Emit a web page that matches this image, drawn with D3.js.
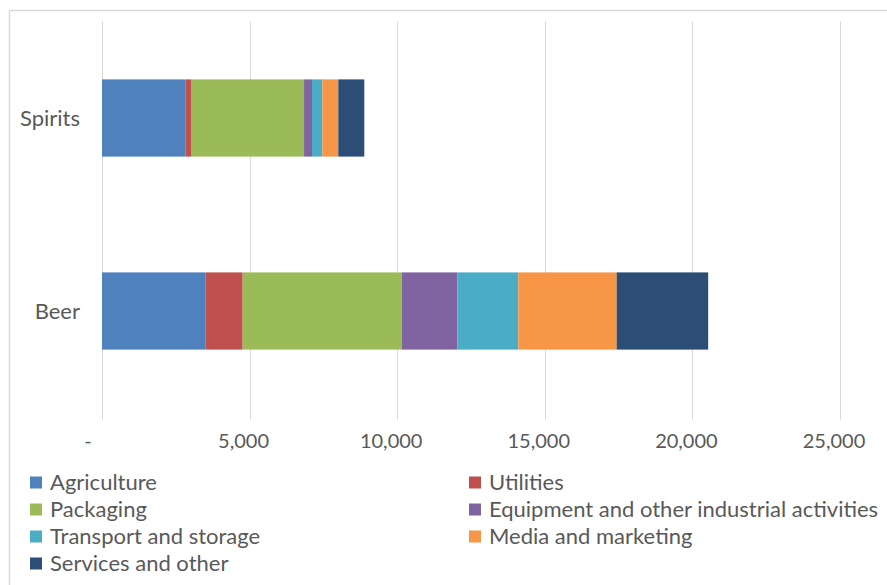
<!DOCTYPE html>
<html>
<head>
<meta charset="utf-8">
<script src="https://cdn.jsdelivr.net/npm/d3@7"></script>
<style>
  html, body { margin: 0; padding: 0; background: #fff; }
  svg { display: block; font-family: Lato, "Open Sans", sans-serif; }
</style>
</head>
<body>
<svg id="chart" width="887" height="585"></svg>
<script>
// Drink categories (top to bottom) and cost components
const categories = ["Spirits", "Beer"];
const seriesNames = [
  "Agriculture", "Utilities", "Packaging", "Equipment and other industrial activities",
  "Transport and storage", "Media and marketing", "Services and other"
];
const seriesColors = ["#4f81bd", "#c0504d", "#9bbb59", "#8064a2", "#4bacc6", "#f79646", "#2c4d75"];

// Values per component, in category order [Spirits, Beer]
const agriculture = [2835, 3500];
const utilities   = [180, 1265];
const packaging   = [3830, 5385];
const equipment   = [270, 1885];
const transport   = [350, 2065];
const media       = [540, 3335];
const services    = [880, 3100];

const xTicks = [0, 5000, 10000, 15000, 20000, 25000];

const seriesValues = [agriculture, utilities, packaging, equipment, transport, media, services];

const svg = d3.select("#chart");
const W = 887, H = 585;
const plot = { left: 102, right: 840, top: 21.5, bottom: 407.5 };
const textColor = "#595959";
const gridColor = "#d9d9d9";

// Outer chart frame
svg.append("rect")
  .attr("x", 9.5).attr("y", 10.5)
  .attr("width", W).attr("height", H)
  .attr("fill", "#fff")
  .attr("stroke", "#d9d9d9").attr("stroke-width", 1.5);

const x = d3.scaleLinear().domain([0, 25000]).range([plot.left, plot.right]);
const y = d3.scaleBand().domain(categories).range([plot.top, plot.bottom]).padding(0);
const barH = y.bandwidth() * 0.4;

// Vertical gridlines
svg.append("g")
  .selectAll("line")
  .data(xTicks)
  .join("line")
  .attr("x1", d => Math.round(x(d)) + 0.5)
  .attr("x2", d => Math.round(x(d)) + 0.5)
  .attr("y1", plot.top)
  .attr("y2", plot.bottom + 12)
  .attr("stroke", gridColor)
  .attr("stroke-width", 1);

// Stack the components per category
const rows = categories.map((c, i) => {
  const r = { category: c };
  seriesNames.forEach((s, j) => { r[s] = seriesValues[j][i]; });
  return r;
});
const stacked = d3.stack().keys(seriesNames)(rows);

svg.append("g")
  .selectAll("g")
  .data(stacked)
  .join("g")
  .attr("fill", (d, i) => seriesColors[i])
  .selectAll("rect")
  .data(d => d)
  .join("rect")
  .attr("x", d => x(d[0]))
  .attr("width", d => x(d[1]) - x(d[0]))
  .attr("y", d => y(d.data.category) + (y.bandwidth() - barH) / 2)
  .attr("height", barH);

// Category labels
svg.append("g")
  .selectAll("text")
  .data(categories)
  .join("text")
  .attr("x", 80)
  .attr("y", d => y(d) + y.bandwidth() / 2)
  .attr("dy", "0.35em")
  .attr("text-anchor", "end")
  .attr("font-size", 22)
  .attr("fill", textColor)
  .text(d => d);

// Value axis labels
const fmt = d3.format(",");
svg.append("g")
  .selectAll("text")
  .data(xTicks)
  .join("text")
  .attr("x", d => x(d) - (d === 0 ? 14 : 6))
  .attr("y", 441)
  .attr("dy", "0.35em")
  .attr("text-anchor", "middle")
  .attr("font-size", 20)
  .attr("fill", textColor)
  .text(d => d === 0 ? "-" : fmt(d));

// Legend in two columns
const legend = svg.append("g")
  .selectAll("g")
  .data(seriesNames)
  .join("g")
  .attr("transform", (d, i) => `translate(${i % 2 === 0 ? 30 : 469}, ${482.5 + Math.floor(i / 2) * 27})`);

legend.append("rect")
  .attr("x", 0).attr("y", -6)
  .attr("width", 12).attr("height", 12)
  .attr("fill", (d, i) => seriesColors[i]);

legend.append("text")
  .attr("x", 20)
  .attr("y", 0)
  .attr("dy", "0.35em")
  .attr("font-size", 22)
  .attr("fill", textColor)
  .text(d => d);
</script>
</body>
</html>
